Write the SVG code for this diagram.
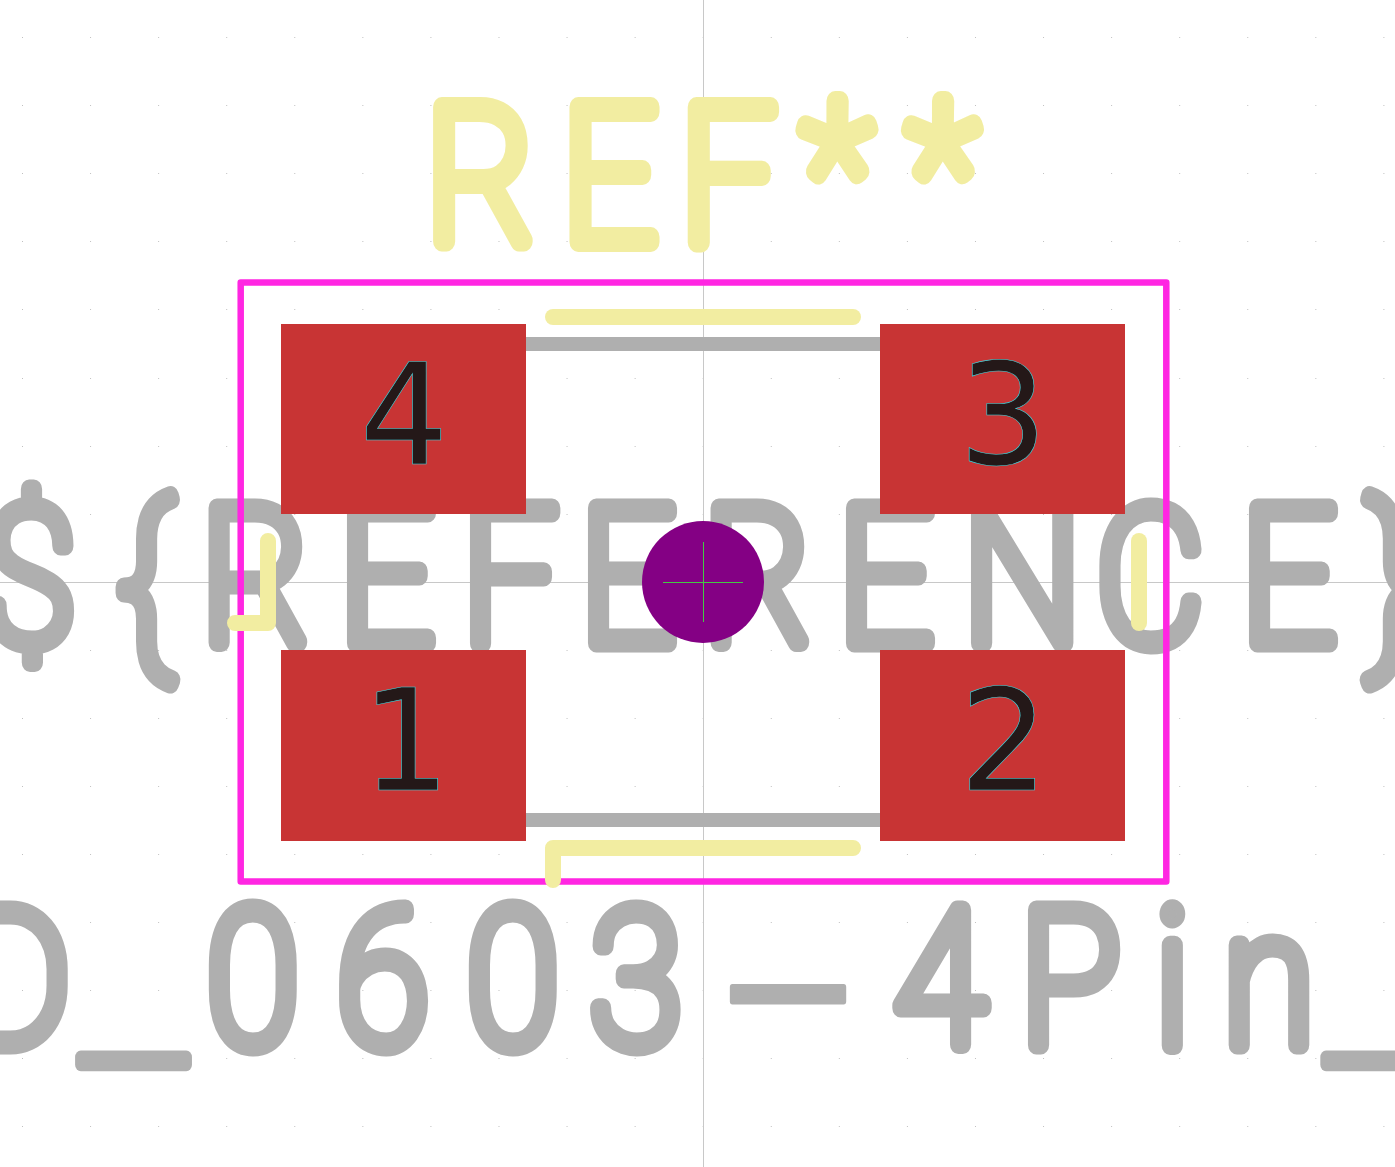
<svg xmlns="http://www.w3.org/2000/svg" width="1395" height="1167" viewBox="0 0 1395 1167">
<style>
.grid{stroke:#c0c0c0;stroke-width:1;stroke-dasharray:1 67.07;fill:none}
.axis{stroke:#c8c8c8;stroke-width:1;fill:none}
.fab{stroke:#afafaf;stroke-width:14;fill:none}
.silk{stroke:#f2eda1;stroke-width:16;stroke-linecap:round;stroke-linejoin:round;fill:none}
.court{stroke:#ff26e2;stroke-width:6.5;stroke-linejoin:round;fill:none}
.pad{fill:#c83434}
.gt{font-family:Roboto,"Liberation Sans",sans-serif;font-weight:100;font-size:190px;fill:#afafaf;stroke:#afafaf;stroke-width:19;stroke-linecap:round;stroke-linejoin:round}
.rt{font-family:Roboto,"Liberation Sans",sans-serif;font-weight:100;font-size:190px;fill:#f2eda1;stroke:#f2eda1;stroke-width:20;stroke-linecap:round;stroke-linejoin:round}
.us{font-size:290px;stroke-width:13}
.hy{font-size:550px;stroke-width:6}
.num{font-family:"DejaVu Sans","Liberation Sans",sans-serif;font-size:140px;fill:#241818;stroke:#3fd8e0;stroke-width:.6;text-anchor:middle}
.cross{stroke:#45c845;stroke-width:1;fill:none}
</style>
<g id="grid">
<line class="grid" x1="22" x2="1395" y1="37.5" y2="37.5"/><line class="grid" x1="22" x2="1395" y1="105.5" y2="105.5"/><line class="grid" x1="22" x2="1395" y1="173.5" y2="173.5"/><line class="grid" x1="22" x2="1395" y1="241.5" y2="241.5"/><line class="grid" x1="22" x2="1395" y1="309.5" y2="309.5"/><line class="grid" x1="22" x2="1395" y1="378.5" y2="378.5"/><line class="grid" x1="22" x2="1395" y1="446.5" y2="446.5"/><line class="grid" x1="22" x2="1395" y1="514.5" y2="514.5"/><line class="grid" x1="22" x2="1395" y1="582.5" y2="582.5"/><line class="grid" x1="22" x2="1395" y1="650.5" y2="650.5"/><line class="grid" x1="22" x2="1395" y1="718.5" y2="718.5"/><line class="grid" x1="22" x2="1395" y1="786.5" y2="786.5"/><line class="grid" x1="22" x2="1395" y1="854.5" y2="854.5"/><line class="grid" x1="22" x2="1395" y1="922.5" y2="922.5"/><line class="grid" x1="22" x2="1395" y1="990.5" y2="990.5"/><line class="grid" x1="22" x2="1395" y1="1058.5" y2="1058.5"/><line class="grid" x1="22" x2="1395" y1="1126.5" y2="1126.5"/>
</g>
<g id="axes"><line class="axis" x1="703.5" y1="0" x2="703.5" y2="1167"/><line class="axis" x1="0" y1="582.5" x2="1395" y2="582.5"/></g>
<g id="value"><text class="gt" transform="scale(.88 1)" y="1045"><tspan x="-44.3">D</tspan><tspan class="us" x="92" y="1057">_</tspan><tspan y="1045" x="235.3 383 530.7 670.5">0603</tspan><tspan class="hy" x="816" y="1173">-</tspan><tspan y="1045" x="1016 1159 1312.5 1389.8">4Pin</tspan><tspan class="us" x="1507" y="1057">_</tspan></text></g>
<g id="user-ref"><text class="gt" transform="scale(.88 1)" y="643" x="-18.2 134.1 228.4 385.2 525 659.1 798.9 952.3 1094.3 1245.5 1410.2 1554.5">${REFERENCE}</text></g>
<g id="fab"><line class="fab" x1="526" y1="344" x2="880" y2="344"/><line class="fab" x1="526" y1="820" x2="880" y2="820"/></g>
<g id="courtyard"><rect class="court" x="240.7" y="282.5" width="925.6" height="599"/></g>
<g id="pad4"><rect class="pad" x="281" y="324" width="245" height="190"/><text class="num" x="404" y="464">4</text></g>
<g id="pad3"><rect class="pad" x="880" y="324" width="245" height="190"/><text class="num" x="1003" y="464">3</text></g>
<g id="pad1"><rect class="pad" x="281" y="650" width="245" height="191"/><text class="num" x="406" y="790">1</text></g>
<g id="pad2"><rect class="pad" x="880" y="650" width="245" height="191"/><text class="num" x="1004" y="790">2</text></g>
<g id="silk">
<path class="silk" d="M553 317H853"/>
<path class="silk" d="M553 880V848H853"/>
<path class="silk" d="M235 623H268V541"/>
<path class="silk" d="M1139 541V623"/>
</g>
<g id="reference"><text class="rt" transform="scale(.88 1)" y="242"><tspan x="484.1 638.5 773">REF</tspan><tspan y="236" x="911 1031">**</tspan></text></g>
<g id="origin"><circle cx="703" cy="582" r="61" fill="#840084"/><path class="cross" d="M663 582.5H743M703.5 542V622"/></g>
</svg>
